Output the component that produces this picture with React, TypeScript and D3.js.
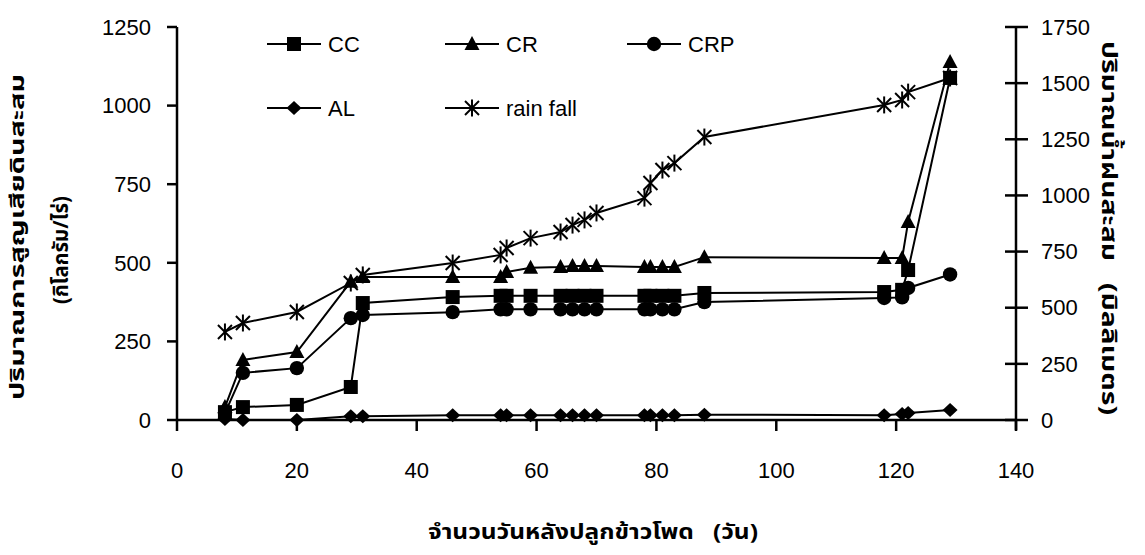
import React from "react";
import * as d3 from "d3";

// Days after planting at which soil loss and rainfall were recorded
const days = [8, 11, 20, 29, 31, 46, 54, 55, 59, 64, 66, 68, 70, 78, 79, 81, 83, 88, 118, 121, 122, 129];

// Accumulated soil loss (kg/rai) per treatment
const cc = [25, 41, 48, 105, 372, 391, 395, 395, 395, 395, 395, 395, 395, 395, 395, 395, 395, 404, 407, 414, 477, 1088];
const cr = [41, 191, 216, 440, 455, 455, 455, 471, 484, 487, 490, 490, 490, 487, 487, 487, 487, 518, 515, 515, 630, 1139];
const crp = [22, 150, 165, 324, 334, 343, 352, 352, 352, 352, 352, 352, 352, 352, 352, 352, 352, 375, 388, 390, 420, 463];
const al = [3, 0, 0, 12, 12, 15, 15, 15, 15, 15, 15, 15, 15, 15, 15, 15, 15, 17, 15, 19, 22, 32];

// Accumulated rainfall (mm), right axis
const rainfall = [392, 432, 481, 610, 646, 699, 735, 766, 810, 837, 868, 891, 922, 988, 1055, 1113, 1144, 1260, 1403, 1425, 1460, 1523];

const xTicks = [0, 20, 40, 60, 80, 100, 120, 140];
const leftTicks = [0, 250, 500, 750, 1000, 1250];
const rightTicks = [0, 250, 500, 750, 1000, 1250, 1500, 1750];

const W = 1145;
const H = 555;
const plotLeft = 177;
const plotRight = 1016;
const plotTop = 27;
const plotBottom = 420;

const x = d3.scaleLinear().domain([0, 140]).range([plotLeft, plotRight]);
const yL = d3.scaleLinear().domain([0, 1250]).range([plotBottom, plotTop]);
const yR = d3.scaleLinear().domain([0, 1750]).range([plotBottom, plotTop]);

const font = "'Liberation Sans', Arial, sans-serif";
const thaiFont = "'Noto Sans Thai', 'Loma', 'Garuda', 'Tahoma', 'DejaVu Sans', sans-serif";

type Kind = "square" | "triangle" | "circle" | "diamond" | "star";

function Marker({ kind, cx, cy }: { kind: Kind; cx: number; cy: number }) {
  switch (kind) {
    case "square":
      return <rect x={cx - 7} y={cy - 7} width={14} height={14} fill="#000" />;
    case "triangle":
      return <path d={`M${cx},${cy - 8}L${cx + 7.5},${cy + 6}L${cx - 7.5},${cy + 6}Z`} fill="#000" />;
    case "circle":
      return <circle cx={cx} cy={cy} r={7.2} fill="#000" />;
    case "diamond":
      return <path d={`M${cx},${cy - 7}L${cx + 7.5},${cy}L${cx},${cy + 7}L${cx - 7.5},${cy}Z`} fill="#000" />;
    case "star":
      return (
        <g stroke="#000" strokeWidth={2}>
          <line x1={cx - 7} y1={cy - 7} x2={cx + 7} y2={cy + 7} />
          <line x1={cx - 7} y1={cy + 7} x2={cx + 7} y2={cy - 7} />
          <line x1={cx} y1={cy - 8.5} x2={cx} y2={cy + 8.5} />
        </g>
      );
  }
}

type Series = { name: string; values: number[]; kind: Kind; axis: "L" | "R" };

const series: Series[] = [
  { name: "CC", values: cc, kind: "square", axis: "L" },
  { name: "CR", values: cr, kind: "triangle", axis: "L" },
  { name: "CRP", values: crp, kind: "circle", axis: "L" },
  { name: "AL", values: al, kind: "diamond", axis: "L" },
  { name: "rain fall", values: rainfall, kind: "star", axis: "R" },
];

// Legend placement: two rows of entries inside the plot
const legendSlots = [
  { x: 267, y: 44 },
  { x: 445, y: 44 },
  { x: 627, y: 44 },
  { x: 267, y: 108 },
  { x: 445, y: 108 },
];

export default function App() {
  return (
    <svg
      width={W}
      height={H}
      style={{ position: "absolute", left: 0, top: 0, background: "#fff" }}
    >
      <rect width={W} height={H} fill="#fff" />

      {/* series lines and markers */}
      {series.map((s) => {
        const y = s.axis === "L" ? yL : yR;
        const line = d3
          .line<number>()
          .x((_, i) => x(days[i]))
          .y((v) => y(v));
        return (
          <g key={s.name}>
            <path d={line(s.values) ?? ""} fill="none" stroke="#000" strokeWidth={2} />
            {s.values.map((v, i) => (
              <Marker key={i} kind={s.kind} cx={x(days[i])} cy={y(v)} />
            ))}
          </g>
        );
      })}

      {/* axes */}
      <g stroke="#000" strokeWidth={2.5} fill="none">
        <line x1={plotLeft} y1={plotTop} x2={plotLeft} y2={plotBottom} />
        <line x1={plotLeft} y1={plotBottom} x2={plotRight} y2={plotBottom} />
        <line x1={plotRight} y1={plotTop} x2={plotRight} y2={plotBottom + 10} />
        {leftTicks.map((t) => (
          <line key={"l" + t} x1={plotLeft - 10} x2={plotLeft} y1={yL(t)} y2={yL(t)} />
        ))}
        {rightTicks.map((t) => (
          <line key={"r" + t} x1={plotRight - 11} x2={plotRight + 12} y1={yR(t)} y2={yR(t)} />
        ))}
        {xTicks.map((t) => (
          <line key={"x" + t} x1={x(t)} x2={x(t)} y1={plotBottom} y2={plotBottom + 11} />
        ))}
      </g>

      <g fontFamily={font} fontSize={22} fill="#000">
        {leftTicks.map((t) => (
          <text key={t} x={151} y={yL(t)} dy="0.35em" textAnchor="end">
            {t}
          </text>
        ))}
        {rightTicks.map((t) => (
          <text key={t} x={1041} y={yR(t)} dy="0.35em" textAnchor="start">
            {t}
          </text>
        ))}
        {xTicks.map((t) => (
          <text key={t} x={x(t)} y={470} dy="0.35em" textAnchor="middle">
            {t}
          </text>
        ))}
      </g>

      {/* legend */}
      <g fontFamily={font} fontSize={22} fill="#000">
        {series.map((s, i) => {
          const p = legendSlots[i];
          return (
            <g key={s.name}>
              <line x1={p.x} x2={p.x + 54} y1={p.y} y2={p.y} stroke="#000" strokeWidth={2} />
              <Marker kind={s.kind} cx={p.x + 27} cy={p.y} />
              <text x={p.x + 61} y={p.y} dy="0.35em">
                {s.name}
              </text>
            </g>
          );
        })}
      </g>

      {/* axis titles */}
      <g fontFamily={thaiFont} fontWeight="bold" fill="#000">
        <text
          transform={`translate(24,237) rotate(-90)`}
          textAnchor="middle"
          fontSize={20}
          textLength={326}
          lengthAdjust="spacingAndGlyphs"
        >
          ปริมาณการสูญเสียดินสะสม
        </text>
        <text
          transform={`translate(68,250) rotate(-90)`}
          textAnchor="middle"
          fontSize={21}
          textLength={108}
          lengthAdjust="spacingAndGlyphs"
        >
          (กิโลกรัม/ไร่)
        </text>
        <text
          transform={`translate(1102,228) rotate(90)`}
          textAnchor="middle"
          fontSize={22}
          textLength={374}
          lengthAdjust="spacingAndGlyphs"
          xmlSpace="preserve"
        >
          ปริมาณน้ำฝนสะสม   (มิลลิเมตร)
        </text>
        <text
          x={593}
          y={539}
          textAnchor="middle"
          fontSize={22}
          textLength={330}
          lengthAdjust="spacingAndGlyphs"
          xmlSpace="preserve"
        >
          จำนวนวันหลังปลูกข้าวโพด   (วัน)
        </text>
      </g>
    </svg>
  );
}
